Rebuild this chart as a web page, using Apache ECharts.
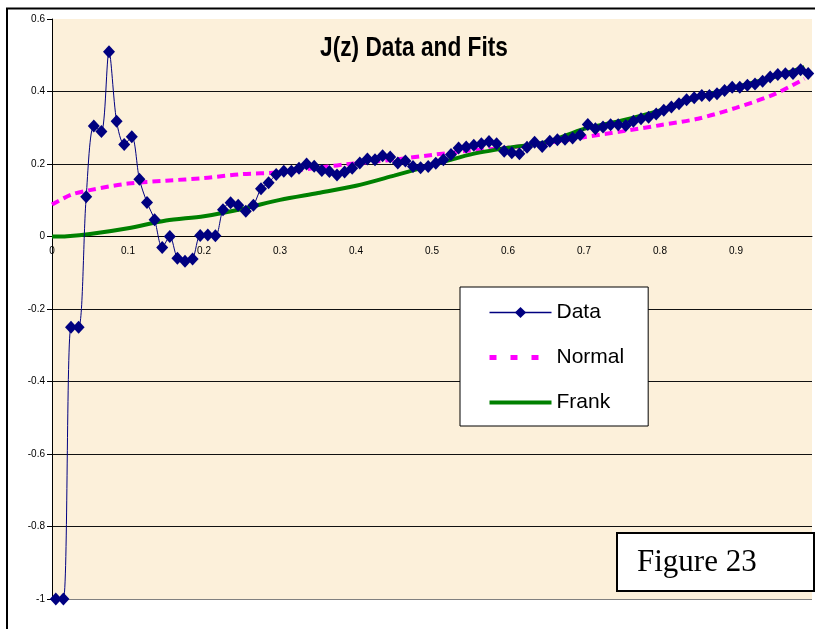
<!DOCTYPE html>
<html>
<head>
<meta charset="utf-8">
<script src="https://cdn.jsdelivr.net/npm/echarts@6/dist/echarts.min.js"></script>
<style>
  html, body { margin: 0; padding: 0; background: #fff; }
  #chart { width: 815px; height: 629px; }
</style>
</head>
<body>
<div id="chart"></div>
<script>
// J(z) data points
const dataZ = [
  0.005, 0.015, 0.025, 0.035, 0.045, 0.055, 0.065, 0.075, 0.085, 0.095,
  0.105, 0.115, 0.125, 0.135, 0.145, 0.155, 0.165, 0.175, 0.185, 0.195,
  0.205, 0.215, 0.225, 0.235, 0.245, 0.255, 0.265, 0.275, 0.285, 0.295,
  0.305, 0.315, 0.325, 0.335, 0.345, 0.355, 0.365, 0.375, 0.385, 0.395,
  0.405, 0.415, 0.425, 0.435, 0.445, 0.455, 0.465, 0.475, 0.485, 0.495,
  0.505, 0.515, 0.525, 0.535, 0.545, 0.555, 0.565, 0.575, 0.585, 0.595,
  0.605, 0.615, 0.625, 0.635, 0.645, 0.655, 0.665, 0.675, 0.685, 0.695,
  0.705, 0.715, 0.725, 0.735, 0.745, 0.755, 0.765, 0.775, 0.785, 0.795,
  0.805, 0.815, 0.825, 0.835, 0.845, 0.855, 0.865, 0.875, 0.885, 0.895,
  0.905, 0.915, 0.925, 0.935, 0.945, 0.955, 0.965, 0.975, 0.985, 0.995
];
const dataJ = [
  -1.0, -1.0, -0.25, -0.25, 0.11, 0.305, 0.29, 0.51, 0.318, 0.254,
  0.275, 0.158, 0.094, 0.046, -0.03, 0.0, -0.06, -0.068, -0.062, 0.003,
  0.004, 0.002, 0.074, 0.093, 0.086, 0.07, 0.086, 0.132, 0.148, 0.171,
  0.18, 0.18, 0.188, 0.2, 0.194, 0.182, 0.179, 0.17, 0.178, 0.188,
  0.203, 0.214, 0.212, 0.223, 0.219, 0.203, 0.208, 0.193, 0.19, 0.193,
  0.202, 0.212, 0.226, 0.244, 0.247, 0.252, 0.256, 0.262, 0.256, 0.235,
  0.231, 0.228, 0.246, 0.26, 0.248, 0.263, 0.267, 0.268, 0.272, 0.281,
  0.309, 0.297, 0.302, 0.308, 0.308, 0.306, 0.318, 0.325, 0.329, 0.338,
  0.348, 0.357, 0.366, 0.377, 0.383, 0.389, 0.389, 0.394, 0.403, 0.412,
  0.412, 0.417, 0.421, 0.428, 0.44, 0.447, 0.449, 0.45, 0.46, 0.45
];

// fitted curves
const normalZ = [0, 0.025, 0.05, 0.1, 0.15, 0.2, 0.25, 0.3, 0.35, 0.4, 0.45,
  0.5, 0.55, 0.6, 0.65, 0.7, 0.75, 0.8, 0.85, 0.9, 0.95, 0.99];
const normalJ = [0.088, 0.115, 0.128, 0.146, 0.154, 0.161, 0.172, 0.177, 0.19, 0.202, 0.212,
  0.225, 0.237, 0.245, 0.258, 0.274, 0.29, 0.307, 0.325, 0.355, 0.392, 0.435];

const frankZ = [0, 0.02, 0.05, 0.1, 0.15, 0.2, 0.25, 0.3, 0.35, 0.4, 0.45,
  0.5, 0.55, 0.6, 0.65, 0.7, 0.75, 0.8, 0.85, 0.9, 0.95, 0.99];
const frankJ = [0, 0.001, 0.007, 0.023, 0.044, 0.056, 0.076, 0.101, 0.12, 0.14, 0.168,
  0.197, 0.226, 0.245, 0.26, 0.297, 0.32, 0.348, 0.384, 0.412, 0.44, 0.467];

const zip = (xs, ys) => xs.map((x, i) => [x, ys[i]]);

const chart = echarts.init(document.getElementById("chart"));

chart.setOption({
  animation: false,
  backgroundColor: "#fff",
  legend: {
    orient: "vertical",
    left: 460,
    top: 287,
    backgroundColor: "#fff",
    borderColor: "#000",
    borderWidth: 1,
    borderRadius: 0,
    padding: [15, 24, 13, 27],
    itemWidth: 62,
    itemHeight: 14,
    itemGap: 24,
    data: [
      { name: "Data", lineStyle: { width: 1.5 } },
      { name: "Normal", itemStyle: { opacity: 0 }, lineStyle: { width: 5, type: [7, 14] } },
      { name: "Frank", itemStyle: { opacity: 0 }, lineStyle: { width: 4 } },
    ],
    textStyle: { fontFamily: "Liberation Sans", fontSize: 21, color: "#000" },
  },
  grid: {
    left: 52,
    top: 19,
    right: 1,
    bottom: 30,
    show: true,
    backgroundColor: "#fcf0da",
    borderWidth: 0,
  },
  xAxis: {
    type: "value",
    min: 0,
    max: 1,
    interval: 0.1,
    offset: -362.5,
    axisLine: { onZero: false, lineStyle: { color: "#000", width: 1 } },
    axisTick: { show: false },
    splitLine: { show: false },
    axisLabel: {
      margin: 10,
      fontFamily: "Liberation Sans",
      fontSize: 10,
      color: "#000",
      formatter: (v) => (v >= 1 ? "" : String(Math.round(v * 10) / 10)),
    },
  },
  yAxis: {
    type: "value",
    min: -1,
    max: 0.6,
    interval: 0.2,
    axisLine: { show: true, onZero: false, lineStyle: { color: "#000", width: 1 } },
    axisTick: { show: true, length: 5, lineStyle: { color: "#000" } },
    splitLine: {
      show: true,
      lineStyle: {
        color: ["#808080", "#111", "#111", "#111", "#111", "#111", "#111", "#111", "rgba(0,0,0,0)"],
        width: 1,
      },
    },
    axisLabel: {
      margin: 7,
      fontFamily: "Liberation Sans",
      fontSize: 10,
      color: "#000",
      formatter: (v) => String(Math.round(v * 10) / 10),
    },
  },
  graphic: [
    {
      type: "polyline",
      shape: { points: [[7, 629], [7, 8.5], [815, 8.5]] },
      style: { stroke: "#000", lineWidth: 2, fill: null },
      z: 100,
    },
    {
      // chart title, condensed like the original
      type: "text",
      x: 414,
      y: 48,
      scaleX: 0.81,
      z: 100,
      style: {
        text: "J(z) Data and Fits",
        fontFamily: "Liberation Sans",
        fontSize: 28,
        fontWeight: "bold",
        fill: "#000",
        align: "center",
        verticalAlign: "middle",
      },
    },
    {
      type: "group",
      left: 616,
      top: 532,
      z: 100,
      children: [
        {
          type: "rect",
          shape: { x: 0, y: 0, width: 197, height: 58 },
          style: { fill: "#fff", stroke: "#000", lineWidth: 2 },
        },
        {
          type: "text",
          x: 20,
          y: 30,
          style: {
            text: "Figure 23",
            fontFamily: "Liberation Serif",
            fontSize: 31,
            fill: "#000",
            verticalAlign: "middle",
          },
        },
      ],
    },
  ],
  series: [
    {
      name: "Normal",
      type: "line",
      data: zip(normalZ, normalJ),
      symbol: "none",
      smooth: 0.3,
      lineStyle: { color: "#ff00ff", width: 4, type: [8, 5] },
      itemStyle: { color: "#ff00ff" },
      z: 2,
    },
    {
      name: "Frank",
      type: "line",
      data: zip(frankZ, frankJ),
      symbol: "none",
      smooth: 0.3,
      lineStyle: { color: "#008000", width: 4 },
      itemStyle: { color: "#008000" },
      z: 3,
    },
    {
      name: "Data",
      type: "line",
      data: zip(dataZ, dataJ),
      smooth: 0.3,
      symbol: "diamond",
      symbolSize: [12, 13],
      lineStyle: { color: "#000080", width: 1 },
      itemStyle: { color: "#000080" },
      z: 4,
    },
  ],
});
</script>
</body>
</html>
